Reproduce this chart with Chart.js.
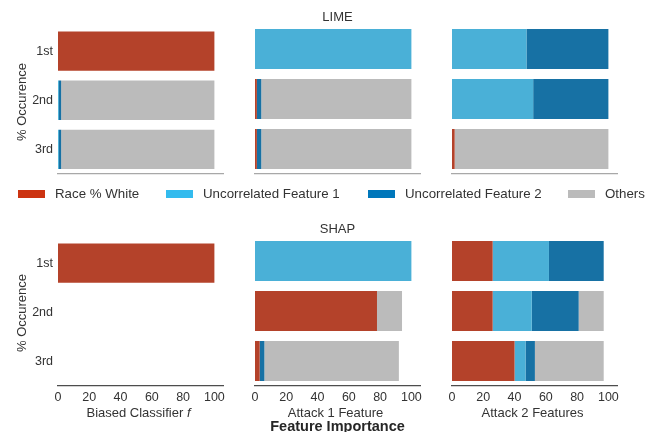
<!DOCTYPE html>
<html>
<head>
<meta charset="utf-8">
<script src="https://cdn.jsdelivr.net/npm/chart.js@4"></script>
<style>
  html, body { margin: 0; padding: 0; background: #fff; }
  #fig { position: relative; width: 655px; height: 432px; overflow: hidden;
         font-family: "Liberation Sans", Arial, sans-serif; color: #333; }
  #fig canvas { position: absolute; }
  .t { position: absolute; white-space: nowrap; line-height: 1; transform: translate(-50%, -50%); }
  .sw { position: absolute; }
</style>
</head>
<body>
<div id="fig"></div>
<script>
// Rank of the feature in the explanation
const categories = ['1st', '2nd', '3rd'];
const seriesNames = ['Race % White', 'Uncorrelated Feature 1', 'Uncorrelated Feature 2', 'Others'];
const legendColors = ['#cc3311', '#33bbee', '#0077bb', '#bbbbbb'];
const barColors = ['#b4422a', '#4ab0d7', '#1771a4', '#bbbbbb'];
const tickValues = [0, 20, 40, 60, 80, 100];
const columnTitles = ['Biased Classifier', 'Attack 1 Feature', 'Attack 2 Features'];

// % occurrence per rank; one row per series (Race, Unc. 1, Unc. 2, Others)
const limeBiased  = [[100, 0, 0], [0, 0.6, 0.6], [0, 1.4, 1.4], [0, 98, 98]];
const limeAttack1 = [[0, 1.2, 1.2], [100, 0, 0], [0, 2.8, 2.8], [0, 96, 96]];
const limeAttack2 = [[0, 0, 1.7], [47.6, 51.9, 0], [52.4, 48.1, 0], [0, 0, 98.3]];
const shapBiased  = [[100, 0, 0], [0, 0, 0], [0, 0, 0], [0, 0, 0]];
const shapAttack1 = [[0, 78, 3], [100, 0, 0], [0, 0, 3], [0, 16, 86]];
const shapAttack2 = [[26, 26, 40], [36, 25, 7], [35, 30, 6], [0, 16, 44]];

const fig = document.getElementById('fig');

// Plot-area geometry
const colLeft = [58, 255, 452];
const rowTop = [24, 236];
const areaW = 165, areaH = 150;
const yAxisW = 50, padTop = 10, padRight = 12, xAxisH = 22;
const xMax = 105.5;

function addText(html, x, y, css) {
  const d = document.createElement('div');
  d.className = 't';
  d.innerHTML = html;
  d.style.left = x + 'px';
  d.style.top = y + 'px';
  Object.assign(d.style, css || {});
  fig.appendChild(d);
  return d;
}

function makePanel(row, col, rows) {
  const cv = document.createElement('canvas');
  const w = yAxisW + areaW + padRight;
  const h = padTop + areaH + xAxisH;
  cv.width = w; cv.height = h;
  cv.style.left = (colLeft[col] - yAxisW) + 'px';
  cv.style.top = (rowTop[row] - padTop) + 'px';
  cv.style.width = w + 'px'; cv.style.height = h + 'px';
  fig.appendChild(cv);

  const bottomRow = row === 1;
  new Chart(cv, {
    type: 'bar',
    data: {
      labels: categories,
      datasets: rows.map((vals, i) => ({
        label: seriesNames[i],
        data: vals,
        backgroundColor: barColors[i],
        borderWidth: 0,
        barPercentage: 0.8,
        categoryPercentage: 1.0
      }))
    },
    options: {
      indexAxis: 'y',
      responsive: false,
      devicePixelRatio: 1,
      animation: false,
      events: [],
      layout: { padding: { top: padTop, right: padRight, left: 0, bottom: 0 } },
      plugins: { legend: { display: false }, tooltip: { enabled: false }, title: { display: false } },
      scales: {
        x: {
          type: 'linear', stacked: true, min: 0, max: xMax,
          grid: { display: false, drawTicks: false },
          border: { display: true, color: bottomRow ? '#4d4d4d' : '#a8a8a8', width: 1.3 },
          ticks: {
            display: bottomRow, padding: 4, color: '#333',
            font: { family: 'Liberation Sans', size: 12.5 }
          },
          afterBuildTicks: (s) => { s.ticks = tickValues.map(v => ({ value: v })); },
          afterFit: (s) => { s.height = xAxisH; }
        },
        y: {
          type: 'category', stacked: true, offset: true,
          grid: { display: false, drawTicks: false },
          border: { display: false },
          ticks: {
            display: col === 0, padding: 5, color: '#333',
            font: { family: 'Liberation Sans', size: 12.5 }
          },
          afterFit: (s) => { s.width = yAxisW; }
        }
      }
    }
  });
}

makePanel(0, 0, limeBiased);
makePanel(0, 1, limeAttack1);
makePanel(0, 2, limeAttack2);
makePanel(1, 0, shapBiased);
makePanel(1, 1, shapAttack1);
makePanel(1, 2, shapAttack2);

// Row titles
const midX = colLeft[1] + areaW / 2;
addText('LIME', midX, 15.5, { fontSize: '13px' });
addText('SHAP', midX, 227.5, { fontSize: '13px' });

// Y-axis labels
[102, 313].forEach(y => {
  addText('% Occurence', 21, y, { fontSize: '13px', transform: 'translate(-50%, -50%) rotate(-90deg)' });
});

// Column labels under the bottom row
columnTitles.forEach((t, i) => {
  const html = i === 0 ? t + ' <i>f</i>' : t;
  addText(html, colLeft[i] + areaW / 2 - 2, 411.5, { fontSize: '13px' });
});
addText('Feature Importance', midX, 425.5, { fontSize: '14.5px', fontWeight: 'bold', color: '#262626' });

// Legend between the two rows
const swatchX = [18, 166, 368, 568];
seriesNames.forEach((name, i) => {
  const sw = document.createElement('div');
  sw.className = 'sw';
  Object.assign(sw.style, { left: swatchX[i] + 'px', top: '190px', width: '27px', height: '7.5px', background: legendColors[i] });
  fig.appendChild(sw);
  addText(name, swatchX[i] + 37, 193.8, { fontSize: '13.3px', transform: 'translate(0, -50%)' });
});
</script>
</body>
</html>
